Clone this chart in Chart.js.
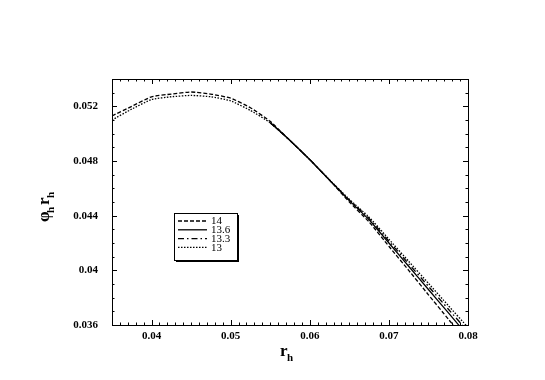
<!DOCTYPE html>
<html>
<head>
<meta charset="utf-8">
<script src="https://cdn.jsdelivr.net/npm/chart.js@4"></script>
<style>
  html, body { margin: 0; padding: 0; background: #fff; }
  #wrap { width: 545px; height: 380px; }
</style>
</head>
<body>
<div id="wrap"><canvas id="c"></canvas></div>
<script>
// r_h sample points
const rh = [0.035, 0.0375, 0.04, 0.0425, 0.045, 0.0475, 0.05, 0.0525, 0.055,
  0.0575, 0.06, 0.0625, 0.065, 0.0675, 0.07, 0.0725, 0.075, 0.0775, 0.08];

// phi_h * r_h for each curve
const phi14 = [0.0513, 0.0520, 0.0527, 0.0529, 0.05305, 0.0529, 0.0526, 0.0519, 0.0509,
  0.0495, 0.0481, 0.0466, 0.0450, 0.04354, 0.04176, 0.0400, 0.03821, 0.03644, 0.03466];
const phi136 = [null, null, null, null, null, null, null, null, 0.0508,
  0.0495, 0.0481, 0.0466, 0.0451, 0.0437, 0.0420, 0.0403, 0.0386, 0.0369, 0.0352];
const phi133 = [null, null, null, null, null, null, null, null, 0.0508,
  0.0495, 0.0481, 0.0466, 0.04515, 0.0438, 0.04214, 0.04048, 0.03883, 0.03717, 0.03552];
const phi13 = [0.0510, 0.0518, 0.0525, 0.0527, 0.0528, 0.0527, 0.0524, 0.0517, 0.0508,
  0.0495, 0.0481, 0.04662, 0.0452, 0.04389, 0.04228, 0.04066, 0.03905, 0.03743, 0.03582];

const labels = ['14', '13.6', '13.3', '13'];
const dashes = [[4, 2], [], [6, 3, 1.5, 3], [1.5, 1.5]];

const xTicks = [0.04, 0.05, 0.06, 0.07, 0.08];
const yTicks = [0.036, 0.04, 0.044, 0.048, 0.052];

const serif = '"Liberation Serif", "Times New Roman", serif';

const toPoints = (ys) => rh.map((x, i) => ({ x: x, y: ys[i] }));

const datasets = [phi14, phi136, phi133, phi13].map((ys, i) => ({
  label: labels[i],
  data: toPoints(ys),
  borderColor: '#000',
  borderWidth: 1.3,
  borderDash: dashes[i],
  pointRadius: 0,
  tension: 0.15,
  fill: false,
}));

const framePlugin = {
  id: 'frame',
  afterDraw(chart) {
    const ctx = chart.ctx;
    const a = chart.chartArea;
    const xs = chart.scales.x;
    const ys = chart.scales.y;
    ctx.save();
    ctx.strokeStyle = '#000';
    ctx.lineWidth = 1;
    ctx.strokeRect(a.left + 0.5, a.top + 0.5, a.right - a.left, a.bottom - a.top);

    // inward ticks on all four sides
    ctx.beginPath();
    for (let k = 35; k <= 80; k++) {
      const v = k / 1000;
      const px = Math.round(xs.getPixelForValue(v)) + 0.5;
      const len = k % 10 === 0 ? 5 : 2.5;
      ctx.moveTo(px, a.bottom); ctx.lineTo(px, a.bottom - len);
      ctx.moveTo(px, a.top); ctx.lineTo(px, a.top + len);
    }
    for (let k = 36; k <= 54; k++) {
      const v = k / 1000;
      const py = Math.round(ys.getPixelForValue(v)) + 0.5;
      const len = (k - 36) % 4 === 0 ? 5 : 2.5;
      ctx.moveTo(a.left, py); ctx.lineTo(a.left + len, py);
      ctx.moveTo(a.right, py); ctx.lineTo(a.right - len, py);
    }
    ctx.stroke();

    // axis titles
    ctx.fillStyle = '#000';
    ctx.textBaseline = 'alphabetic';
    ctx.font = 'bold 17px ' + serif;
    ctx.fillText('r', 280, 356);
    ctx.font = 'bold 11px ' + serif;
    ctx.fillText('h', 287, 361);

    ctx.translate(49, 222);
    ctx.rotate(-Math.PI / 2);
    ctx.font = 'bold 17px ' + serif;
    ctx.fillText('\u03c6', 0, 0);
    ctx.font = 'bold 11px ' + serif;
    ctx.fillText('h', 9, 5);
    ctx.font = 'bold 17px ' + serif;
    ctx.fillText('r', 17, 0);
    ctx.font = 'bold 11px ' + serif;
    ctx.fillText('h', 24, 5);
    ctx.restore();

    // legend box
    ctx.save();
    const bx = 174, by = 213, bw = 63, bh = 47;
    ctx.fillStyle = '#000';
    ctx.fillRect(bx + 2, by + 2, bw, bh);
    ctx.fillStyle = '#fff';
    ctx.fillRect(bx, by, bw, bh);
    ctx.strokeStyle = '#000';
    ctx.lineWidth = 1;
    ctx.strokeRect(bx + 0.5, by + 0.5, bw, bh);
    ctx.font = '11px ' + serif;
    ctx.textBaseline = 'middle';
    ctx.fillStyle = '#000';
    chart.data.datasets.forEach((ds, i) => {
      const yy = by + 8 + i * 8.8;
      ctx.beginPath();
      ctx.setLineDash(ds.borderDash);
      ctx.lineWidth = 1.3;
      ctx.moveTo(178, yy);
      ctx.lineTo(207, yy);
      ctx.stroke();
      ctx.setLineDash([]);
      ctx.fillText(ds.label, 211, yy + 0.5);
    });
    ctx.restore();
  },
};

new Chart(document.getElementById('c'), {
  type: 'line',
  data: { datasets: datasets },
  options: {
    responsive: true,
    maintainAspectRatio: false,
    animation: false,
    layout: { padding: { top: 79, right: 77, left: 0, bottom: 0 } },
    plugins: { legend: { display: false }, tooltip: { enabled: false } },
    scales: {
      x: {
        type: 'linear',
        min: 0.035,
        max: 0.08,
        afterBuildTicks: (s) => { s.ticks = xTicks.map((v) => ({ value: v })); },
        afterFit: (s) => { s.height = 55; },
        grid: { display: false, drawTicks: false },
        border: { display: false },
        ticks: {
          color: '#000',
          padding: 5,
          maxRotation: 0,
          font: { family: serif, size: 11, weight: 'bold' },
          callback: (v) => String(Number(v.toFixed(3))),
        },
      },
      y: {
        type: 'linear',
        min: 0.036,
        max: 0.054,
        afterBuildTicks: (s) => { s.ticks = yTicks.map((v) => ({ value: v })); },
        afterFit: (s) => { s.width = 112; },
        grid: { display: false, drawTicks: false },
        border: { display: false },
        ticks: {
          color: '#000',
          padding: 14,
          font: { family: serif, size: 11, weight: 'bold' },
          callback: (v) => String(Number(v.toFixed(3))),
        },
      },
    },
  },
  plugins: [framePlugin],
});
</script>
</body>
</html>
